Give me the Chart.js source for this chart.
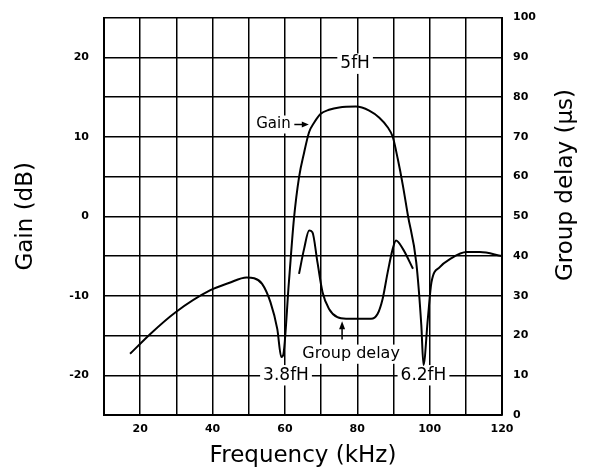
<!DOCTYPE html>
<html>
<head>
<meta charset="utf-8">
<script src="https://cdn.jsdelivr.net/npm/chart.js@4.4.1/dist/chart.umd.min.js"></script>
<style>
  html, body { margin: 0; padding: 0; background: #fff; }
</style>
</head>
<body>
<canvas id="chart" width="597" height="473"></canvas>
<script>
// Gain curve (kHz -> dB)
const gainFreq = [17.2, 22.8, 29.7, 39.4, 44.5, 49.4, 51.5, 53.7, 56.0, 57.9, 59.0, 59.5, 61.1, 62.5, 63.9, 65.3, 66.7, 68.1, 69.9, 72.2, 75.0, 79.6, 83.3, 86.1, 88.4, 89.8, 91.2, 92.6, 94.0, 96.3, 97.7, 98.3, 99.5, 100.5, 102.8, 105.6, 110.2, 113.9, 120];
const gainDb   = [-17.3, -14.8, -12.1, -9.3, -8.4, -7.7, -7.8, -8.5, -10.8, -14.2, -17.7, -17.5, -8.3, -0.3, 4.9, 8.0, 10.6, 11.8, 12.9, 13.4, 13.7, 13.8, 13.3, 12.4, 11.2, 10.0, 7.2, 3.9, 0.1, -5.8, -13.7, -18.7, -12.9, -8.3, -6.4, -5.4, -4.5, -4.5, -5.0];

// Group delay curve (kHz -> microseconds)
const delayFreq = [63.9, 65.3, 66.7, 67.6, 69.0, 70.4, 72.2, 74.5, 76.9, 83.8, 85.6, 87.0, 88.4, 89.8, 90.7, 92.6, 95.4];
const delayUs   = [35.5, 41.8, 46.4, 46.0, 38.4, 30.9, 26.7, 24.6, 24.2, 24.2, 25.4, 29.2, 35.9, 41.8, 43.9, 41.8, 36.8];

// tick labels
const freqLabels = [20, 40, 60, 80, 100, 120];
const gainTicks = [-20, -10, 0, 10, 20];
const delayTicks = [0, 10, 20, 30, 40, 50, 60, 70, 80, 90, 100];

const tickFont = { family: 'DejaVu Sans', size: 11, weight: 'bold' };
const titleFont = { family: 'DejaVu Sans', size: 23 };

// text notes on the plot, placed in data units (kHz, us)
const notes = [
    { text: '5fH', x: 79.4, y: 88.4, size: 17 },
    { text: '3.8fH', x: 60.3, y: 10.0, size: 17 },
    { text: '6.2fH', x: 98.3, y: 10.0, size: 17 },
    { text: 'Group delay', x: 78.3, y: 15.3, size: 16 },
    { text: 'Gain', x: 61.6, y: 73.1, size: 15, align: 'right' }
];

const notesPlugin = {
    id: 'notes',
    beforeDatasetsDraw(chart) {
        const ctx = chart.ctx;
        const xs = chart.scales.x;
        const ys = chart.scales.yDelay;
        ctx.save();
        notes.forEach(n => {
            ctx.font = n.size + 'px "DejaVu Sans"';
            const w = ctx.measureText(n.text).width;
            const px = xs.getPixelForValue(n.x);
            const py = ys.getPixelForValue(n.y);
            const left = n.align === 'right' ? px - w : px - w / 2;
            ctx.fillStyle = '#fff';
            ctx.fillRect(left - 3, py - n.size * 0.6, w + 6, n.size * 1.2);
            ctx.fillStyle = '#000';
            ctx.textBaseline = 'middle';
            ctx.textAlign = 'left';
            ctx.fillText(n.text, left, py);
        });

        // "Gain ->" arrow
        const ay = ys.getPixelForValue(73.1);
        const ax0 = xs.getPixelForValue(62.6);
        const ax1 = xs.getPixelForValue(66.6);
        ctx.strokeStyle = '#000';
        ctx.lineWidth = 1.5;
        ctx.beginPath();
        ctx.moveTo(ax0, ay);
        ctx.lineTo(ax1 - 5, ay);
        ctx.stroke();
        ctx.beginPath();
        ctx.moveTo(ax1, ay);
        ctx.lineTo(ax1 - 7, ay - 3);
        ctx.lineTo(ax1 - 7, ay + 3);
        ctx.closePath();
        ctx.fill();

        // arrow up to the group delay floor
        const gx = xs.getPixelForValue(75.8);
        const gy0 = ys.getPixelForValue(19.0);
        const gy1 = ys.getPixelForValue(23.6);
        ctx.beginPath();
        ctx.moveTo(gx, gy0);
        ctx.lineTo(gx, gy1 + 6);
        ctx.stroke();
        ctx.beginPath();
        ctx.moveTo(gx, gy1);
        ctx.lineTo(gx - 3, gy1 + 8);
        ctx.lineTo(gx + 3, gy1 + 8);
        ctx.closePath();
        ctx.fill();
        ctx.restore();
    },
    afterDraw(chart) {
        // right axis title reads bottom to top, like the left one
        const ctx = chart.ctx;
        ctx.save();
        ctx.translate(566, 185);
        ctx.rotate(-Math.PI / 2);
        ctx.font = '23px "DejaVu Sans"';
        ctx.fillStyle = '#000';
        ctx.textAlign = 'center';
        ctx.textBaseline = 'middle';
        ctx.fillText('Group delay (\u03bcs)', 0, 0);
        ctx.restore();
    }
};

const ctx = document.getElementById('chart').getContext('2d');

new Chart(ctx, {
    type: 'scatter',
    data: {
        datasets: [{
            label: 'Gain',
            data: gainFreq.map((f, i) => ({ x: f, y: gainDb[i] })),
            yAxisID: 'yGain',
            showLine: true,
            borderColor: '#000',
            borderWidth: 2,
            pointRadius: 0,
            cubicInterpolationMode: 'monotone'
        }, {
            label: 'Group delay',
            data: delayFreq.map((f, i) => ({ x: f, y: delayUs[i] })),
            yAxisID: 'yDelay',
            showLine: true,
            borderColor: '#000',
            borderWidth: 2,
            pointRadius: 0,
            cubicInterpolationMode: 'monotone'
        }]
    },
    options: {
        responsive: false,
        animation: false,
        layout: { padding: { top: 15, left: 0, right: 0, bottom: 0 } },
        plugins: {
            legend: { display: false },
            tooltip: { enabled: false }
        },
        scales: {
            x: {
                type: 'linear',
                position: 'bottom',
                min: 10,
                max: 120,
                ticks: {
                    stepSize: 10,
                    autoSkip: false,
                    maxRotation: 0,
                    padding: 8,
                    color: '#000',
                    font: tickFont,
                    callback: v => freqLabels.includes(v) ? String(v) : ''
                },
                grid: { color: '#000', lineWidth: 1.5, drawTicks: false },
                border: { display: true, color: '#000', width: 2 },
                title: { display: true, text: 'Frequency (kHz)', color: '#000', font: titleFont, padding: { top: 0, bottom: 3 } },
                afterFit: s => { s.height = 58; }
            },
            yGain: {
                type: 'linear',
                position: 'left',
                min: -25,
                max: 25,
                afterBuildTicks: s => { s.ticks = gainTicks.map(v => ({ value: v })); },
                ticks: { padding: 7, color: '#000', font: tickFont, callback: v => String(v) },
                grid: { display: false },
                border: { display: true, color: '#000', width: 2 },
                title: { display: true, text: 'Gain (dB)', color: '#000', font: titleFont, padding: { top: 12, bottom: 0 } },
                afterFit: s => { s.width = 104; }
            },
            yDelay: {
                type: 'linear',
                position: 'right',
                min: 0,
                max: 100,
                afterBuildTicks: s => { s.ticks = delayTicks.map(v => ({ value: v })); },
                ticks: { padding: 11, color: '#000', font: tickFont },
                grid: { color: '#000', lineWidth: 1.5, drawTicks: false },
                border: { display: true, color: '#000', width: 2 },
                afterFit: s => { s.width = 95; }
            }
        }
    },
    plugins: [notesPlugin]
});
</script>
</body>
</html>
